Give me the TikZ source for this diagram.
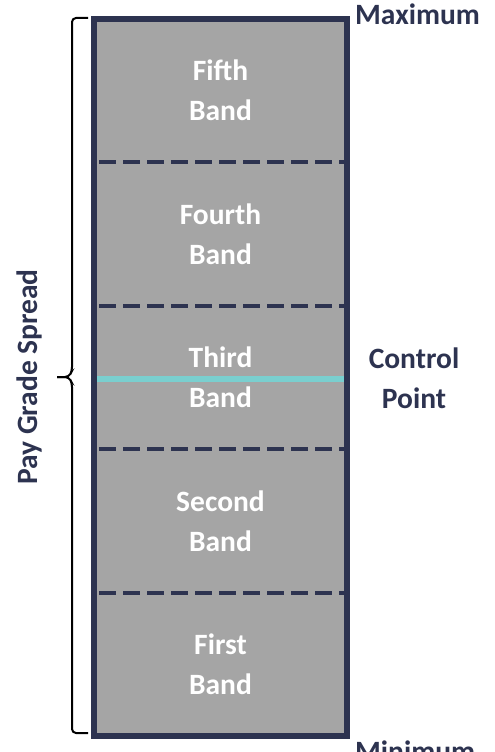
\documentclass[tikz,border=0pt]{standalone}
\usepackage{fontspec}
\setmainfont{Carlito}
\definecolor{navy}{HTML}{2D3350}
\definecolor{bandgray}{HTML}{A5A5A5}
\definecolor{ctrlcyan}{HTML}{7ACFCF}

\begin{document}
\begin{tikzpicture}[x=1pt,y=-1pt,
  lbl/.style={font=\fontsize{29.5}{40}\selectfont\bfseries, text=navy, align=center, inner sep=0pt},
  bandlbl/.style={lbl, text=white}]
\useasboundingbox (0,0) rectangle (495,752);
\fill[bandgray] (94,19) rectangle (347,736);
\foreach \y in {162.4,305.8,449.2,592.6}
   \draw[navy, line width=4pt, dash pattern=on 17pt off 7pt] (99,\y) -- (344,\y);
\draw[ctrlcyan, line width=6pt] (97,379) -- (344,379);
\draw[navy, line width=6pt] (94,19) rectangle (347,736);
\foreach \n/\t in {0/First,1/Second,2/Third,3/Fourth,4/Fifth}
   \node[bandlbl] (band\n) at (220.5,{664.3-143.4*\n}) {\t\\Band};
\node[lbl, anchor=base west] (max) at (355,25) {Maximum};
\node[lbl, anchor=base west] (min) at (355,761) {Minimum};
\node[lbl] (ctrl) at (414,378) {Control\\Point};
% spread brace
\draw[line width=2pt, rounded corners=4pt] (88,18) -- (72,18) -- (72,371) -- (69,377) -- (57,377);
\draw[line width=2pt, rounded corners=4pt] (57,377) -- (69,377) -- (72,383) -- (72,733) -- (88,733);
\node[lbl, rotate=90] (spread) at (29,377) {Pay Grade Spread};
\end{tikzpicture}
\end{document}
